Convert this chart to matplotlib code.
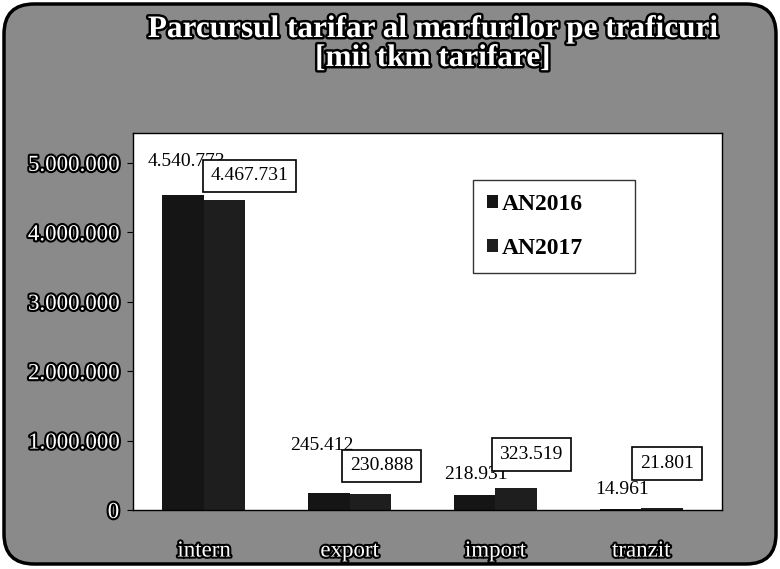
import numpy as np
import matplotlib
matplotlib.use("Agg")
import matplotlib.pyplot as plt
import matplotlib.patheffects as pe
from matplotlib.patches import FancyBboxPatch
from matplotlib.ticker import FuncFormatter

categories = ["intern", "export", "import", "tranzit"]
series_names = ["AN2016", "AN2017"]
values_2016 = [4540773, 245412, 218931, 14961]
values_2017 = [4467731, 230888, 323519, 21801]

# hand-placed label offsets (pixels from bar top), like the original
offsets_2016 = [(3, 33), (-7, 47), (1, 20), (2, 19)]
offsets_2017 = [(25, 24), (11, 28), (15, 33), (5, 45)]


def dotted(v, pos=None):
    return f"{v:,.0f}".replace(",", ".")


outline = [pe.withStroke(linewidth=3, foreground="black")]
serif = "Liberation Serif"

fig = plt.figure(figsize=(7.8, 5.69), dpi=100)
fig.patch.set_facecolor("white")

# grey rounded frame
frame = FancyBboxPatch((0.04, 0.05), 7.72, 5.6,
                       boxstyle="round,pad=0,rounding_size=0.3",
                       transform=fig.dpi_scale_trans,
                       facecolor="#8a8a8a", edgecolor="black", linewidth=2.5,
                       zorder=-10)
fig.patches.append(frame)

ax = fig.add_axes([133 / 780, 1 - 510 / 569, (722 - 133) / 780, (510 - 133) / 569])
ax.set_facecolor("white")

x = np.arange(len(categories))
w = 0.285
bars16 = ax.bar(x - w / 2, values_2016, w, color="#151515", label=series_names[0])
bars17 = ax.bar(x + w / 2, values_2017, w, color="#1e1e1e", label=series_names[1])

ax.set_xlim(-0.487, 3.555)
ax.set_ylim(0, 5.43e6)
ax.set_yticks(np.arange(0, 5000001, 1000000))
ax.yaxis.set_major_formatter(FuncFormatter(dotted))
ax.set_xticks(x)
ax.set_xticklabels(categories)
ax.tick_params(axis="x", length=0, pad=22)
ax.tick_params(axis="y", length=4, direction="out", pad=6)

for lab in ax.get_yticklabels() + ax.get_xticklabels():
    lab.set_fontfamily(serif)
    lab.set_fontsize(16.5)
    lab.set_color("white")
    lab.set_path_effects(outline)

for s in ax.spines.values():
    s.set_color("black")
    s.set_linewidth(1)

for b, v, off in zip(bars16, values_2016, offsets_2016):
    ax.annotate(dotted(v), (b.get_x() + b.get_width() / 2, v),
                xytext=off, textcoords="offset pixels",
                ha="center", va="center", fontsize=14, family=serif)

for b, v, off in zip(bars17, values_2017, offsets_2017):
    ax.annotate(dotted(v), (b.get_x() + b.get_width() / 2, v),
                xytext=off, textcoords="offset pixels",
                ha="center", va="center", fontsize=14, family=serif,
                bbox=dict(boxstyle="square,pad=0.4", fc="white", ec="black", lw=1.2))

leg_x0 = (473 - 133) / 589
leg_y1 = 1 - (180 - 133) / 377
leg_w = (635 - 473) / 589
leg = ax.legend(loc="upper left", bbox_to_anchor=(leg_x0, leg_y1 - 0.3, leg_w, 0.3),
                mode="expand",
                frameon=True, fancybox=False, edgecolor="black",
                prop=dict(family=serif, weight="bold", size=17),
                handlelength=0.45, handleheight=0.45, handletextpad=0.15,
                labelspacing=0.95, borderpad=0.6, borderaxespad=0)
leg.get_frame().set_linewidth(1)
for t in leg.get_texts():
    t.set_text(t.get_text())

fig.text(433 / 780, 1 - 44 / 569,
         "Parcursul tarifar al marfurilor pe traficuri\n[mii tkm tarifare]",
         ha="center", va="center", fontsize=22.5, fontweight="bold", family=serif,
         color="white", path_effects=[pe.withStroke(linewidth=3.5, foreground="black")],
         linespacing=1.0)

fig.savefig("out.png", dpi=100)
